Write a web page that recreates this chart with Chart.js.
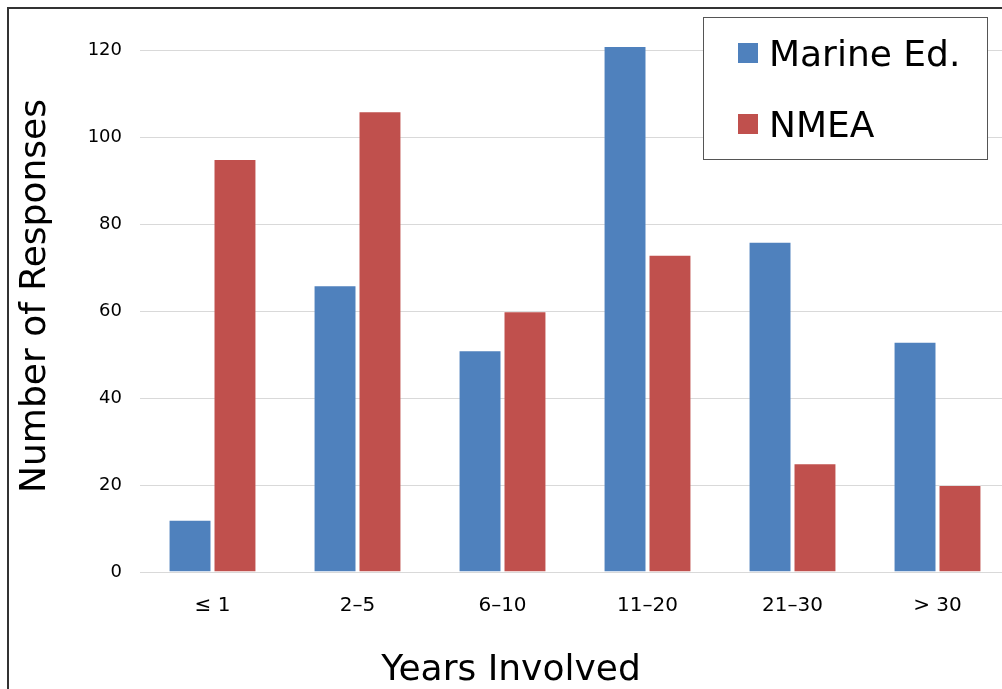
<!DOCTYPE html>
<html>
<head>
<meta charset="utf-8">
<script src="https://cdn.jsdelivr.net/npm/chart.js@4/dist/chart.umd.min.js"></script>
<style>
  html, body { margin: 0; padding: 0; background: #fff; overflow: hidden; width: 1002px; height: 689px; }
  #frame { position: absolute; left: 7px; top: 7px; width: 1100px; height: 800px;
           border-top: 2px solid #333; border-left: 2px solid #333; }
  #wrap { position: absolute; left: 0; top: 0; width: 1010px; height: 689px; }
</style>
</head>
<body>
<div id="frame"></div>
<div id="wrap"><canvas id="c" width="1010" height="689"></canvas></div>
<script>
// Survey responses by years involved
const categories = ['≤ 1', '2–5', '6–10', '11–20', '21–30', '> 30'];
const marineEd = [12, 66, 51, 121, 76, 53];
const nmea = [95, 106, 60, 73, 25, 20];
const seriesNames = ['Marine Ed.', 'NMEA'];
const yTickValues = [0, 20, 40, 60, 80, 100, 120];
const xTitle = 'Years Involved';
const yTitle = 'Number of Responses';

const FONT = '"DejaVu Sans", Verdana, sans-serif';

// Boxed legend inside the plot area
const boxLegend = {
  id: 'boxLegend',
  afterDraw(chart, args, o) {
    const ctx = chart.ctx;
    ctx.save();
    ctx.fillStyle = '#fff';
    ctx.fillRect(o.x, o.y, o.w, o.h);
    ctx.strokeStyle = '#555';
    ctx.lineWidth = 1;
    ctx.strokeRect(o.x + 0.5, o.y + 0.5, o.w, o.h);
    ctx.font = '36px ' + FONT;
    ctx.textAlign = 'left';
    ctx.textBaseline = 'alphabetic';
    chart.data.datasets.forEach((ds, i) => {
      const cy = o.y + o.firstRow + i * o.rowGap;
      ctx.fillStyle = ds.backgroundColor;
      ctx.fillRect(o.x + o.swatchX, cy - 10, 20, 20);
      ctx.fillStyle = '#000';
      ctx.fillText(ds.label, o.x + o.textX, cy + 12.5);
    });
    ctx.restore();
  }
};

// Axis titles
const axisTitles = {
  id: 'axisTitles',
  afterDraw(chart, args, o) {
    const ctx = chart.ctx;
    ctx.save();
    ctx.font = '36px ' + FONT;
    ctx.fillStyle = '#000';
    ctx.textAlign = 'center';
    ctx.textBaseline = 'alphabetic';
    ctx.fillText(o.xText, o.xCx, o.xBase);
    ctx.translate(o.yBase, o.yCy);
    ctx.rotate(-Math.PI / 2);
    ctx.fillText(o.yText, 0, 0);
    ctx.restore();
  }
};

new Chart(document.getElementById('c'), {
  type: 'bar',
  data: {
    labels: categories,
    datasets: [
      { label: seriesNames[0], data: marineEd, backgroundColor: '#4F81BD',
        borderColor: 'rgba(255,255,255,0.2)', borderWidth: 1 },
      { label: seriesNames[1], data: nmea, backgroundColor: '#C0504D',
        borderColor: 'rgba(255,255,255,0.2)', borderWidth: 1 }
    ]
  },
  options: {
    responsive: false,
    animation: false,
    layout: { padding: { top: 7, left: 0, right: 0, bottom: 0 } },
    datasets: { bar: { categoryPercentage: 0.62, barPercentage: 0.955 } },
    plugins: {
      legend: { display: false },
      tooltip: { enabled: false },
      boxLegend: { x: 703, y: 17, w: 284, h: 142, firstRow: 36, rowGap: 71, swatchX: 35, textX: 66 },
      axisTitles: { xText: xTitle, xCx: 511, xBase: 680, yText: yTitle, yBase: 45, yCy: 296 }
    },
    scales: {
      x: {
        grid: { display: false },
        border: { display: true, color: '#d9d9d9', width: 1 },
        ticks: { color: '#000', font: { family: FONT, size: 20 }, padding: 14, maxRotation: 0 },
        afterFit(scale) { scale.height = 117; scale.paddingLeft = 0; scale.paddingRight = 0; }
      },
      y: {
        min: 0,
        max: 130,
        afterBuildTicks(scale) { scale.ticks = yTickValues.map(v => ({ value: v })); },
        grid: { color: '#d9d9d9', lineWidth: 1, drawTicks: false },
        border: { display: false },
        ticks: { color: '#000', font: { family: FONT, size: 18 }, padding: 18 },
        afterFit(scale) { scale.width = 140; scale.paddingTop = 0; scale.paddingBottom = 0; }
      }
    }
  },
  plugins: [boxLegend, axisTitles]
});
</script>
</body>
</html>
